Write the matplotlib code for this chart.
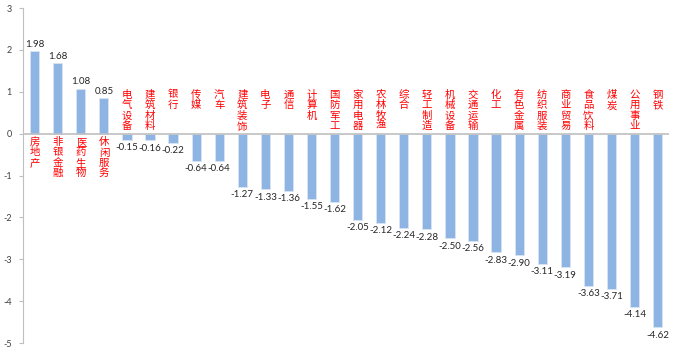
import numpy as np
import matplotlib.pyplot as plt

plt.rcParams['font.family'] = ['Noto Sans CJK SC', 'DejaVu Sans']
plt.rcParams['axes.unicode_minus'] = False

# 行业涨跌幅 (%)
hangye = ["房地产", "非银金融", "医药生物", "休闲服务", "电气设备", "建筑材料", "银行",
          "传媒", "汽车", "建筑装饰", "电子", "通信", "计算机", "国防军工", "家用电器",
          "农林牧渔", "综合", "轻工制造", "机械设备", "交通运输", "化工", "有色金属",
          "纺织服装", "商业贸易", "食品饮料", "煤炭", "公用事业", "钢铁"]
zhangfu = [1.98, 1.68, 1.08, 0.85, -0.15, -0.16, -0.22, -0.64, -0.64, -1.27, -1.33,
           -1.36, -1.55, -1.62, -2.05, -2.12, -2.24, -2.28, -2.50, -2.56, -2.83, -2.90,
           -3.11, -3.19, -3.63, -3.71, -4.14, -4.62]

fig = plt.figure(figsize=(6.8, 3.53), dpi=100)
ax = fig.add_axes([0.034, 0.028, 0.95, 0.949])

x = np.arange(len(hangye))
ax.bar(x, zhangfu, width=0.4, color='#8DB4E2', edgecolor='#DCE6F2', linewidth=0.5, zorder=2)
ax.axhline(0, color='#BFBFBF', linewidth=1.2, zorder=3)

for i, v in enumerate(zhangfu):
    if v >= 0:
        ax.text(i, v + 0.05, f"{v:.2f}", ha='center', va='bottom', fontsize=7, color='#262626',
                family='Lato')
        ax.text(i, -0.08, "\n".join(hangye[i]), ha='center', va='top', fontsize=7.5,
                color='#FF0000', linespacing=1.05)
    else:
        ax.text(i, v - 0.08, f"{v:.2f}", ha='center', va='top', fontsize=7, color='#262626',
                family='Lato')
        ax.text(i, 1.05, "\n".join(hangye[i]), ha='center', va='top', fontsize=7.5,
                color='#FF0000', linespacing=1.05)

ax.set_xlim(-0.5, len(hangye) - 0.5)
ax.set_ylim(-5, 3)
ax.set_yticks(range(-5, 4))
ax.set_xticks([])
ax.tick_params(axis='y', labelsize=6.5, colors='#404040', length=3, width=0.8, color='#BFBFBF', pad=5)
for lab in ax.get_yticklabels():
    lab.set_family('Lato')
for s in ['top', 'right', 'bottom']:
    ax.spines[s].set_visible(False)
ax.spines['left'].set_color('#BFBFBF')

fig.savefig('out.png', dpi=100)
